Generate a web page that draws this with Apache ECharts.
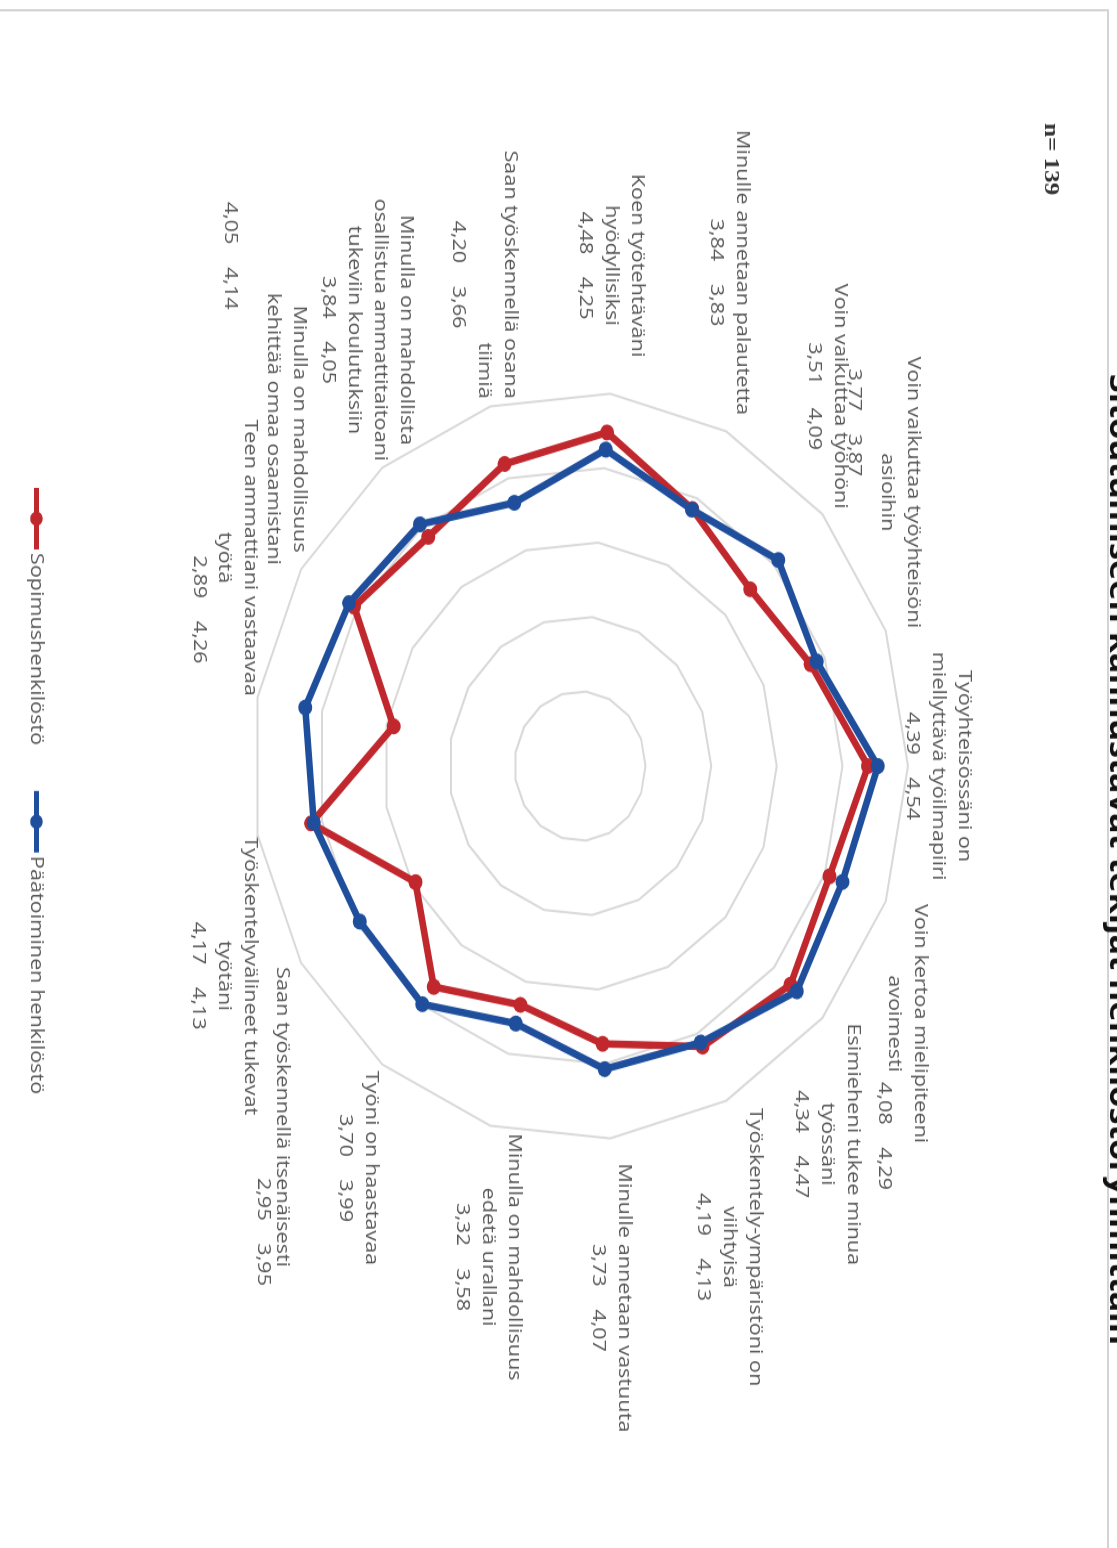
<!DOCTYPE html>
<html>
<head>
<meta charset="utf-8">
<script src="https://cdn.jsdelivr.net/npm/echarts@6/dist/echarts.min.js"></script>
<style>
  html, body { margin: 0; padding: 0; background: #fff; width: 1117px; height: 1548px; overflow: hidden; }
  /* The slide is laid out landscape and turned a quarter clockwise onto the portrait page,
     with its width widened a little as in the printed page. */
  #chart {
    position: absolute; left: 0; top: 0;
    width: 1358px; height: 1117px;
    transform-origin: 0 0;
    transform: translate(1117px, 0) rotate(90deg) scale(1.14, 1);
  }
</style>
</head>
<body>
<div id="chart"></div>
<script>
// Statements, clockwise from the top of the radar
const categories = [
  'Työyhteisössäni on\nmiellyttävä työilmapiiri',
  'Voin kertoa mielipiteeni\navoimesti',
  'Esimieheni tukee minua\ntyössäni',
  'Työskentely-ympäristöni on\nviihtyisä',
  'Minulle annetaan vastuuta',
  'Minulla on mahdollisuus\nedetä urallani',
  'Työni on haastavaa',
  'Saan työskennellä itsenäisesti',
  'Työskentelyvälineet tukevat\ntyötäni',
  'Teen ammattiani vastaavaa\ntyötä',
  'Minulla on mahdollisuus\nkehittää omaa osaamistani',
  'Minulla on mahdollista\nosallistua ammattitaitoani\ntukeviin koulutuksiin',
  'Saan työskennellä osana\ntiimiä',
  'Koen työtehtäväni\nhyödyllisiksi',
  'Minulle annetaan palautetta',
  'Voin vaikuttaa työhöni',
  'Voin vaikuttaa työyhteisöni\nasioihin'
];

// Mean scores (1–5) per staff group
const sopimushenkilosto = [4.39, 4.08, 4.34, 4.19, 3.73, 3.32, 3.70, 2.95, 4.17, 2.89, 4.05, 3.84, 4.20, 4.48, 3.84, 3.51, 3.77];
const paatoiminenHenkilosto = [4.54, 4.29, 4.47, 4.13, 4.07, 3.58, 3.99, 3.95, 4.13, 4.26, 4.14, 4.05, 3.66, 4.25, 3.83, 4.09, 3.87];

const seriesNames = ['Sopimushenkilöstö', 'Päätoiminen henkilöstö'];
const seriesColors = ['#c0282e', '#1f4f9c'];
const scaleMax = 5;
const titleText = 'Sitoutumiseen kannustavat tekijät henkilöstöryhmittäin';
const sampleText = 'n= 139';

// Radar geometry
const CENTER = [672, 537];
const RADIUS = 328;

// Statement labels sit just outside each axis tip (vertically centred, aligned away
// from the radar); a few are nudged, and some carry their scores on a separate spot.
const LABEL_GAP = 7;
const LINE_H = 26;
const labelTweaks = {
  0: { gap: -9 },
  1: { dy: -15, scores: [206, 1] },
  4: { dx: 15 },
  6: { dy: 20 },
  7: { dy: 13, scores: [236, 38] },
  8: { dy: 26 },
  9: { dy: 13, scores: [-77, 58] },
  10: { dy: 9, scores: [-275, 71] },
  11: { dy: 11 },
  12: { dy: 4, lineAlign: 'right' },
  13: { dx: -25 },
  14: { dx: -8 },
  16: { dy: -8, scores: [-183, 31] }
};

const TEXT_STYLE = { fontSize: 19, fontFamily: 'Open Sans', fill: '#595959', lineHeight: LINE_H };
const RICH = {
  c: { align: 'center', fontSize: 19, fontFamily: 'Open Sans', fill: '#595959', lineHeight: LINE_H },
  r: { align: 'right', fontSize: 19, fontFamily: 'Open Sans', fill: '#595959', lineHeight: LINE_H }
};

const fmt = v => v.toFixed(2).replace('.', ',');
const scoreText = i => fmt(sopimushenkilosto[i]) + '    ' + fmt(paatoiminenHenkilosto[i]);

// ECharts lays radar axes out counter-clockwise; feed them in reverse (keeping the first on top)
const order = [0];
for (let i = categories.length - 1; i >= 1; i--) order.push(i);

const indicator = order.map(i => ({ name: categories[i], min: 0, max: scaleMax }));

const labelElements = [];
categories.forEach((name, i) => {
  const t = labelTweaks[i] || {};
  const ang = i * 2 * Math.PI / categories.length;
  const s = Math.sin(ang), c = Math.cos(ang);
  const tip = [CENTER[0] + RADIUS * s, CENTER[1] - RADIUS * c];
  const gap = t.gap !== undefined ? t.gap : LABEL_GAP;
  const ax = tip[0] + gap * s + (t.dx || 0);
  const ay = tip[1] - gap * c + (t.dy || 0);
  let align, vAlign;
  if (Math.abs(s) < 1e-6) { align = 'center'; vAlign = c > 0 ? 'bottom' : 'top'; }
  else { align = s > 0 ? 'left' : 'right'; vAlign = 'middle'; }

  const key = t.lineAlign === 'right' ? 'r' : 'c';
  const lines = name.split('\n').map(l => '{' + key + '|' + l + '}');
  if (!t.scores) lines.push('{c|' + scoreText(i) + '}');
  labelElements.push({
    type: 'text', silent: true, x: ax, y: ay,
    style: Object.assign({
      text: lines.join('\n'),
      align: align, verticalAlign: vAlign, rich: RICH
    }, TEXT_STYLE)
  });
  if (t.scores) {
    labelElements.push({
      type: 'text', silent: true, x: tip[0] + t.scores[0], y: tip[1] + t.scores[1],
      style: Object.assign({ text: scoreText(i), align: 'center', verticalAlign: 'middle' }, TEXT_STYLE)
    });
  }
});

const chart = echarts.init(document.getElementById('chart'), null, { renderer: 'canvas' });

chart.setOption({
  backgroundColor: '#ffffff',
  animation: false,
  graphic: [
    {
      type: 'rect',
      shape: { x: 9, y: 9, width: 2000, height: 2000 },
      style: { fill: 'none', stroke: '#d3d3d3', lineWidth: 2 },
      silent: true
    },
    {
      type: 'text',
      x: 754, y: -17,
      style: {
        text: titleText,
        align: 'center', verticalAlign: 'top',
        fontSize: 30, fontWeight: 'bold', fontFamily: 'Open Sans',
        fill: '#111111'
      },
      silent: true
    },
    {
      type: 'text',
      x: 108, y: 66,
      style: {
        text: sampleText,
        align: 'left', verticalAlign: 'middle',
        fontSize: 22, fontWeight: 'bold', fontFamily: 'Liberation Serif',
        fill: '#333333'
      },
      silent: true
    }
  ].concat(labelElements),
  legend: {
    left: 423,
    top: 1066,
    itemWidth: 54,
    itemHeight: 13,
    itemGap: 40,
    data: seriesNames,
    icon: 'path://M0,4.5H56V9.5H0Z M21.5,7A6.5,6.5 0 1 1 34.5,7A6.5,6.5 0 1 1 21.5,7Z',
    textStyle: { fontSize: 19, color: '#595959', fontFamily: 'Open Sans', padding: [0, 0, 0, -2] }
  },
  radar: {
    center: CENTER,
    radius: RADIUS,
    startAngle: 90,
    shape: 'polygon',
    splitNumber: 5,
    indicator: indicator,
    axisName: { show: false },
    axisLine: { show: false },
    axisTick: { show: false },
    axisLabel: { show: false },
    splitArea: { show: false },
    splitLine: { lineStyle: { color: '#d9d9d9', width: 2 } }
  },
  series: [{
    type: 'radar',
    symbol: 'circle',
    symbolSize: 14,
    data: [
      {
        name: seriesNames[0],
        value: order.map(i => sopimushenkilosto[i]),
        itemStyle: { color: seriesColors[0] },
        lineStyle: { color: seriesColors[0], width: 6.5 }
      },
      {
        name: seriesNames[1],
        value: order.map(i => paatoiminenHenkilosto[i]),
        itemStyle: { color: seriesColors[1] },
        lineStyle: { color: seriesColors[1], width: 6.5 }
      }
    ]
  }]
});
</script>
</body>
</html>
